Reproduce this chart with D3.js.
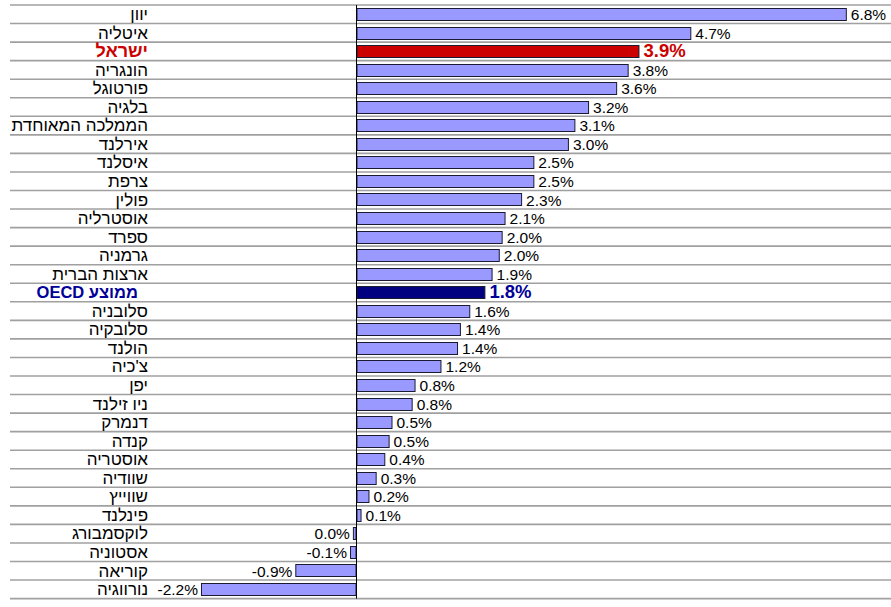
<!DOCTYPE html>
<html><head><meta charset="utf-8">
<script src="https://cdn.jsdelivr.net/npm/d3@7"></script>
<style>body{margin:0;background:#fff}svg{display:block}</style>
</head><body>
<svg id="c" width="891" height="607"></svg>
<script>
const categories = ["יוון","איטליה","ישראל","הונגריה","פורטוגל","בלגיה","הממלכה המאוחדת","אירלנד","איסלנד","צרפת","פולין","אוסטרליה","ספרד","גרמניה","ארצות הברית","ממוצע OECD","סלובניה","סלובקיה","הולנד","צ'כיה","יפן","ניו זילנד","דנמרק","קנדה","אוסטריה","שוודיה","שווייץ","פינלנד","לוקסמבורג","אסטוניה","קוריאה","נורווגיה"];
const values = [6.81,4.65,3.93,3.78,3.62,3.23,3.04,2.95,2.47,2.47,2.30,2.07,2.03,1.99,1.89,1.79,1.58,1.45,1.41,1.18,0.82,0.78,0.50,0.46,0.40,0.28,0.18,0.07,-0.05,-0.09,-0.85,-2.16];
const valueLabels = ["6.8%","4.7%","3.9%","3.8%","3.6%","3.2%","3.1%","3.0%","2.5%","2.5%","2.3%","2.1%","2.0%","2.0%","1.9%","1.8%","1.6%","1.4%","1.4%","1.2%","0.8%","0.8%","0.5%","0.5%","0.4%","0.3%","0.2%","0.1%","0.0%","-0.1%","-0.9%","-2.2%"];
const highlight = {"ישראל":{fill:"#cc0000",text:"#cc0000",inset:0,size:18},"ממוצע OECD":{fill:"#000080",text:"#000099",inset:10,size:16.5}};

(function(){
const svg = d3.select("#c");
const W = 891, y0 = 5, y1 = 598.6, left = 10;
const x = d3.scaleLinear().domain([0, 1]).range([356.5, 428.5]);
const y = d3.scaleBand().domain(categories).range([y0, y1]).paddingInner(0.32).paddingOuter(0.16);
const step = y.step();
const rowTop = d => y(d) - step*0.16;

const data = categories.map((c,i)=>({c, v:values[i], t:valueLabels[i]}));
const font = "'Liberation Sans', Arial, sans-serif";

svg.append("g").selectAll("line").data(d3.range(categories.length+1)).join("line")
  .attr("x1", left).attr("x2", W)
  .attr("y1", i => y0 + i*step).attr("y2", i => y0 + i*step)
  .attr("stroke", "#a0a0a0").attr("stroke-width", 1.6);

svg.append("g").selectAll("rect").data(data).join("rect")
  .attr("x", d => x(Math.min(0,d.v)) + 0.5)
  .attr("y", d => Math.round(y(d.c)) + 0.5)
  .attr("width", d => Math.max(1, Math.abs(x(d.v)-x(0)) - 1))
  .attr("height", Math.round(y.bandwidth()) - 1)
  .attr("fill", d => highlight[d.c] ? highlight[d.c].fill : "#9999ff")
  .attr("stroke", "#1a1a33").attr("stroke-width", 1);

svg.append("line").attr("x1", x(0)).attr("x2", x(0)).attr("y1", y0).attr("y2", y1)
  .attr("stroke", "#000").attr("stroke-width", 1);

svg.append("g").selectAll("text").data(data).join("text")
  .attr("x", d => 148 - (highlight[d.c] ? highlight[d.c].inset : 0))
  .attr("y", d => rowTop(d.c) + 15)
  .attr("direction", "rtl").attr("text-anchor", "start")
  .attr("font-family", font)
  .attr("font-size", d => highlight[d.c] ? highlight[d.c].size : 17)
  .attr("font-weight", d => highlight[d.c] ? "bold" : "normal")
  .attr("fill", d => highlight[d.c] ? highlight[d.c].text : "#000")
  .text(d => d.c);

svg.append("g").selectAll("text").data(data).join("text")
  .attr("x", d => d.v >= 0 ? x(d.v) + 4 : x(d.v) - 3)
  .attr("y", d => rowTop(d.c) + 15)
  .attr("text-anchor", d => d.v >= 0 ? "start" : "end")
  .attr("font-family", font)
  .attr("font-size", d => highlight[d.c] ? 18.5 : 15.5)
  .attr("font-weight", d => highlight[d.c] ? "bold" : "normal")
  .attr("fill", d => highlight[d.c] ? highlight[d.c].text : "#000")
  .text(d => d.t);
})();
</script>
</body></html>
